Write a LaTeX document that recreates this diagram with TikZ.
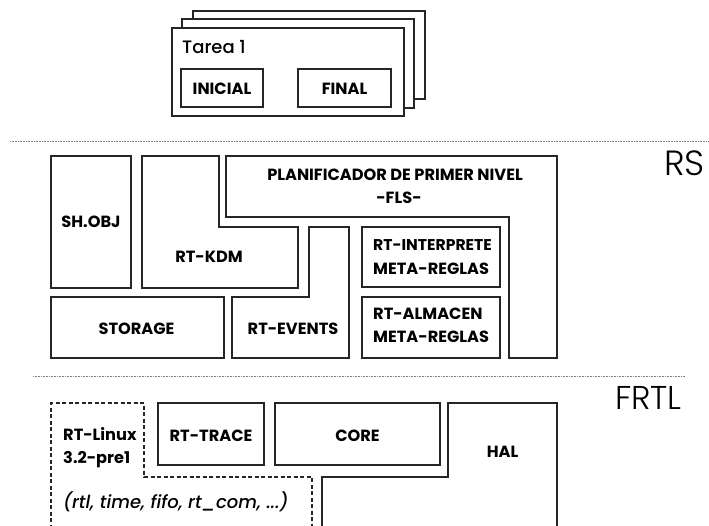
\documentclass[tikz,border=0pt]{standalone}
\usepackage{fontspec}
\setmainfont{Poppins}
\newfontfamily\lightfont{Poppins Light}
\newfontfamily\medfont{Poppins Medium}
\begin{document}
\begin{tikzpicture}[x=1pt,y=-1pt,
  box/.style={draw=black!85,line width=1.3pt,line join=miter},
  dbox/.style={box,dash pattern=on 4pt off 2.5pt},
  sepline/.style={draw=gray,line width=0.6pt,densely dotted},
  lbl/.style={font=\bfseries\fontsize{16.2}{20}\selectfont,inner sep=0pt},
  big/.style={font=\lightfont\fontsize{35}{40}\selectfont,inner sep=0pt}]
\useasboundingbox (0,0) rectangle (709,525);
\clip (0,0) rectangle (709,525);

% Tarea stack
\draw[box,fill=white] (193,11) rectangle (425,99);
\draw[box,fill=white] (182,19) rectangle (414,108);
\draw[box,fill=white] (172,28) rectangle (404,116);
\node[anchor=base west,inner sep=0pt,font=\medfont\fontsize{18}{22}\selectfont] (tarea) at (182,53) {Tarea 1};
\draw[box] (181,69) rectangle (263,107);
\draw[box] (298,69) rectangle (391,107);
\node[lbl,anchor=base] (inicial) at (222,94) {INICIAL};
\node[lbl,anchor=base] (final) at (344.5,94) {FINAL};

% separators
\draw[sepline] (10,141) -- (709,141);
\draw[sepline] (33,376) -- (685,376);

% RS
\node[big,anchor=base east] (rs) at (705,175) {RS};
\draw[box] (51,156) rectangle (131,288);
\node[lbl,anchor=base] (shobj) at (91,227) {SH.OBJ};
\draw[box] (142,156) -- (219,156) -- (219,227) -- (298,227) -- (298,288) -- (142,288) -- cycle;
\node[lbl,anchor=base] (kdm) at (209,262) {RT-KDM};
\draw[box] (226,156) -- (557,156) -- (557,358) -- (509,358) -- (509,217) -- (226,217) -- cycle;
\node[lbl,anchor=base] (plan1) at (395,180) {PLANIFICADOR DE PRIMER NIVEL};
\node[lbl,anchor=base] (plan2) at (399,203) {-FLS-};
\draw[box] (309,227) -- (349,227) -- (349,358) -- (232,358) -- (232,297) -- (309,297) -- cycle;
\node[lbl,anchor=base] (events) at (293,334) {RT-EVENTS};
\draw[box] (51,297) rectangle (224,358);
\node[lbl,anchor=base] (storage) at (136.5,334) {STORAGE};
\draw[box] (362,227) rectangle (500,287);
\node[lbl,anchor=base west,font=\bfseries\fontsize{15.6}{20}\selectfont] (interp1) at (373,250) {RT-INTERPRETE};
\node[lbl,anchor=base west] (interp2) at (373,274) {META-REGLAS};
\draw[box] (362,297) rectangle (500,358);
\node[lbl,anchor=base west] (alm1) at (373,319) {RT-ALMACEN};
\node[lbl,anchor=base west] (alm2) at (373,342) {META-REGLAS};

% FRTL
\node[big,anchor=base east,font=\lightfont\fontsize{33}{38}\selectfont] (frtl) at (682,409) {FRTL};
\draw[dbox] (51,535) -- (51,403) -- (144,403) -- (144,477) -- (312,477) -- (312,535);
\node[lbl,anchor=base west] (linux1) at (63,440) {RT-Linux};
\node[lbl,anchor=base west] (linux2) at (63,463) {3.2-pre1};
\node[anchor=base west,inner sep=0pt,font=\medfont\itshape\fontsize{18}{22}\selectfont] (libs) at (63,508) {(rtl, time, fifo, rt\_com, ...)};
\draw[box] (158,403) rectangle (264,465);
\node[lbl,anchor=base] (trace) at (211,441) {RT-TRACE};
\draw[box] (275,403) rectangle (440,465);
\node[lbl,anchor=base] (core) at (357.5,441) {CORE};
\draw[box] (322,535) -- (322,477) -- (448,477) -- (448,403) -- (557,403) -- (557,535);
\node[lbl,anchor=base] (hal) at (502.5,457) {HAL};
\end{tikzpicture}
\end{document}
